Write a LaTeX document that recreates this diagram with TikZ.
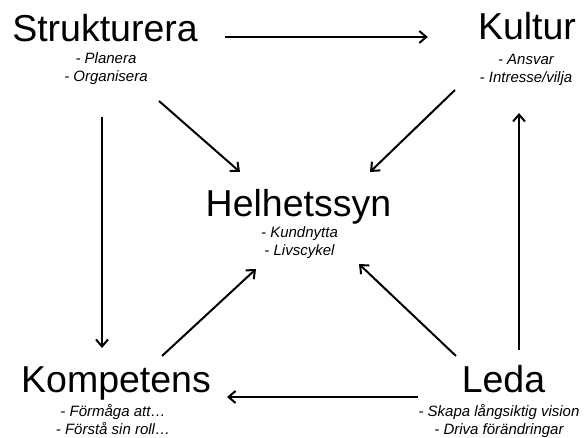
\documentclass[tikz,border=0pt]{standalone}
\usepackage{fontspec}
\setmainfont{Liberation Sans}
\usetikzlibrary{arrows.meta}

\begin{document}
\begin{tikzpicture}[x=1pt,y=-1pt]
        \useasboundingbox (0,0) rectangle (587,438);

        \begin{scope}[every node/.style={inner sep=0pt,anchor=base,font=\fontsize{37.5}{45}\selectfont}]
          \node (strukt)  at (105,42)    {Strukturera};
          \node (kultur)  at (527,40)    {Kultur};
          \node (helhet)  at (298.5,217) {Helhetssyn};
          \node (kompet)  at (116,393)   {Kompetens};
          \node (leda)    at (503.5,393) {Leda};
        \end{scope}

        % base of a two-line node sits on its last line
        \begin{scope}[every node/.style={inner sep=0pt,anchor=base,align=center,font=\fontsize{15}{18}\selectfont\itshape}]
          \node (strukt-sub) at (106,82)    {- Planera\\- Organisera};
          \node (kultur-sub) at (526,83)    {- Ansvar\\- Intresse/vilja};
          \node (helhet-sub) at (299.5,256) {- Kundnytta\\- Livscykel};
          \node (kompet-sub) at (113,435)   {- Förmåga att…\\- Förstå sin roll…};
          \node (leda-sub)   at (499,435)   {- Skapa långsiktig vision\\- Driva förändringar};
        \end{scope}

        \begin{scope}[every edge/.style={draw,line width=2pt,-{Straight Barb[length=7pt,width=12pt]}}]
          \path ([shift={(27,-5)}]strukt.base east)  edge ([shift={(-50,-3)}]kultur.base west);
          \path ([shift={(54,59)}]strukt.base)       edge ([shift={(-58.5,-45)}]helhet.base);
          \path ([shift={(-3,75)}]strukt.base)       edge ([shift={(-14,-45)}]kompet.base);
          \path ([shift={(-72,50)}]kultur.base)      edge ([shift={(71.5,-45)}]helhet.base);
          \path ([shift={(15.5,-43)}]leda.base)      edge ([shift={(-8,73)}]kultur.base);
          \path ([shift={(46,-37)}]kompet.base)      edge ([shift={(-42.5,52)}]helhet.base);
          \path ([shift={(-47.5,-37)}]leda.base)     edge ([shift={(60.5,47)}]helhet.base);
          \path ([shift={(-85.5,4)}]leda.base)       edge ([shift={(111,4)}]kompet.base);
        \end{scope}

      \end{tikzpicture}
\end{document}
